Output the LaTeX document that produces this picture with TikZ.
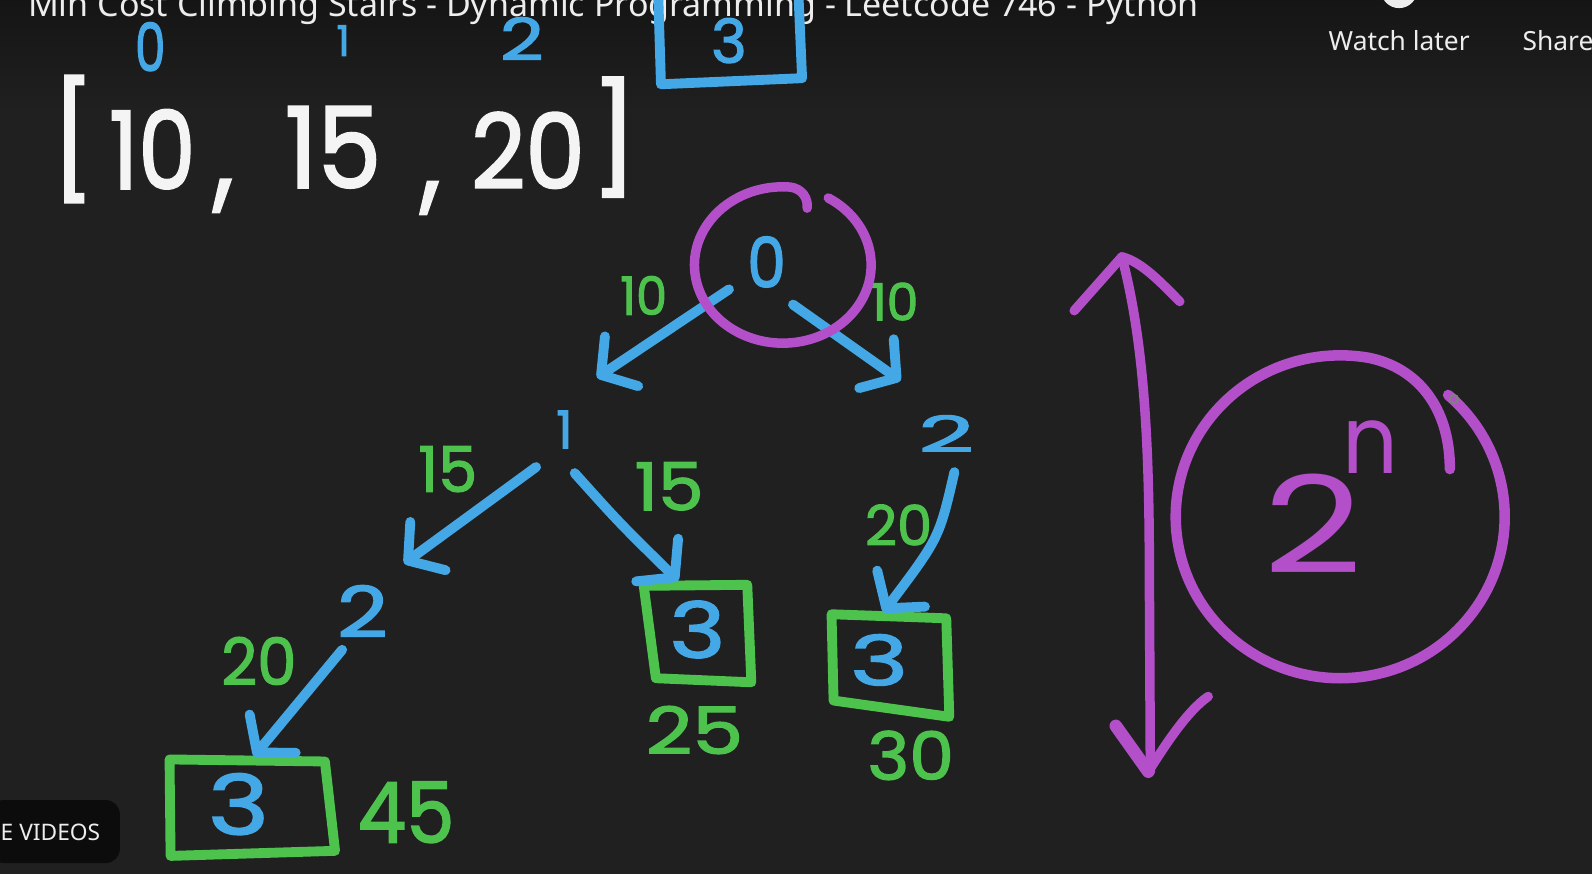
\documentclass[tikz,border=0pt]{standalone}
\usepackage{fontspec}
\usepackage{graphicx}
\setmainfont{Poppins}
\newfontfamily\hwfont{Poppins}[FakeBold=2]
\newfontfamily\uifont{Noto Sans}
\usetikzlibrary{arrows.meta}
\newdimen\U \U=0.010153cm
\newcommand\hw[3]{\resizebox{#1\U}{#2\U}{\hwfont #3}}
\newcommand\hr[3]{\resizebox{#1\U}{#2\U}{\rmfamily #3}}
\newcommand\hh[2]{\resizebox{!}{#1\U}{\hwfont #2}}
\newcommand\hb[3]{\resizebox*{#1\U}{#2\U}{\hwfont #3}}
\definecolor{bg}{HTML}{202020}
\definecolor{bgtop}{HTML}{151515}
\definecolor{hwblue}{HTML}{45A8E6}
\definecolor{hwgreen}{HTML}{4DC24D}
\definecolor{hwpurple}{HTML}{B24FC9}
\definecolor{hwwhite}{HTML}{F4F4F4}
\definecolor{uiwhite}{HTML}{EDEDED}
\definecolor{pillbg}{HTML}{0C0C0C}
\tikzset{
  bluetxt/.style={text=hwblue, inner sep=0pt},
  greentxt/.style={text=hwgreen, inner sep=0pt},
  whitetxt/.style={text=hwwhite, inner sep=0pt},
  uitxt/.style={text=uiwhite, inner sep=0pt, font=\uifont\fontsize{7.5}{9}\selectfont},
  blueline/.style={draw=hwblue, line width=2.8pt, line cap=round, line join=round},
  bluearrow/.style={blueline, -{Straight Barb[length=7pt,width=17pt,round]}},
  greenbox/.style={draw=hwgreen, line width=2.8pt, line join=round, line cap=round},
  bluebox/.style={draw=hwblue, line width=2.8pt, line join=round, line cap=round},
  purpleline/.style={draw=hwpurple, line width=2.7pt, line cap=round, line join=round},
}
\begin{document}
\begin{tikzpicture}[x=0.010153cm, y=-0.010153cm]
\path[use as bounding box] (0,0) rectangle (1568,861);
\clip (0,0) rectangle (1568,861);
\fill[bg] (0,0) rectangle (1568,861);
\shade[top color=bgtop, bottom color=bg] (0,0) rectangle (1568,110);

% ---------- UI overlay ----------
\node[anchor=base west, text=uiwhite, inner sep=0pt] (title) at (27,16)
  {\resizebox{1153\U}{!}{\uifont Min Cost Climbing Stairs - Dynamic Programming - Leetcode 746 - Python}};
\fill[uiwhite] (1378,-10) circle (18);
\node[uitxt, anchor=base west] (watch) at (1308,50) {Watch later};
\node[uitxt, anchor=base west] (share) at (1499,50) {Share};
\fill[pillbg, rounded corners=4] (-10,788) rectangle (118,850);
\node[text=uiwhite, inner sep=0pt, anchor=base west] (more) at (0,828)
  {\resizebox{98\U}{!}{\uifont E VIDEOS}};

% ---------- index labels ----------
\node[bluetxt] (i0) at (148,46) {\hw{30}{48}{0}};
\node[bluetxt] (i1) at (338,40) {\hh{30}{1}};
\node[bluetxt] (i2) at (514,38) {\hw{43}{42}{2}};
\node[bluetxt] (i3) at (718,40) {\hw{35}{44}{3}};
\draw[bluebox] (648,-15) -- (651,83) -- (790,77) -- (786,-15);

% ---------- array ----------
\node[whitetxt] (lb) at (72,137) {\hb{42}{125}{[}};
\node[whitetxt] (c10) at (150,147) {\hw{85}{78}{10}};
\node[whitetxt] (cm1) at (220,193) {\hb{20}{32}{,}};
\node[whitetxt] (c15) at (328,145) {\hw{95}{80}{15}};
\node[whitetxt] (cm2) at (424,195) {\hb{20}{32}{,}};
\node[whitetxt] (c20) at (520,148) {\hw{112}{75}{20}};
\node[whitetxt] (rb) at (605,135) {\hb{46}{118}{]}};

% ---------- tree nodes ----------
\node[bluetxt] (root) at (755,258) {\hw{38}{50}{0}};
\node[bluetxt] (n1) at (556,423) {\hh{37}{1}};
\node[bluetxt] (n2r) at (932,427) {\hw{55}{36}{2}};
\node[bluetxt] (n2l) at (357,602) {\hw{50}{51}{2}};
\node[bluetxt] (n3l) at (235,792) {\hw{60}{60}{3}};
\node[bluetxt] (n3m) at (687,620) {\hw{55}{56}{3}};
\node[bluetxt] (n3r) at (866,650) {\hw{57}{50}{3}};

% boxes around the leaves
\draw[greenbox] (167,748) -- (320,750) -- (330,838) -- (168,843) -- cycle;
\draw[greenbox] (634,577) -- (736,576) -- (740,672) -- (646,668) -- cycle;
\draw[greenbox] (819,605) -- (932,609) -- (935,706) -- (821,690) -- cycle;

% edge costs
\node[greentxt] (w1) at (634,291) {\hw{46}{38}{10}};
\node[greentxt] (w2) at (881,297) {\hw{47}{37}{10}};
\node[greentxt] (w3) at (441,462) {\hw{58}{45}{15}};
\node[greentxt] (w4) at (659,479) {\hw{68}{47}{15}};
\node[greentxt] (w5) at (885,517) {\hw{66}{40}{20}};
\node[greentxt] (w6) at (255,651) {\hw{74}{47}{20}};

% totals
\node[greentxt] (t45) at (400,800) {\hw{95}{60}{45}};
\node[greentxt] (t25) at (684,719) {\hw{96}{47}{25}};
\node[greentxt] (t30) at (897,744) {\hw{85}{48}{30}};

% arrow end points
\coordinate (a1s) at (718,285); \coordinate (a1e) at (588,372);
\coordinate (a2s) at (781,300); \coordinate (a2e) at (887,375);
\coordinate (a3s) at (528,460); \coordinate (a3e) at (398,555);
\coordinate (a4s) at (566,466); \coordinate (a4e) at (668,572);
\coordinate (a5s) at (940,465); \coordinate (a5e) at (870,603);
\coordinate (a6s) at (337,640); \coordinate (a6e) at (250,745);
\draw[bluearrow] (a1s) -- (a1e);
\draw[bluearrow] (a2s) -- (a2e);
\draw[bluearrow] (a3s) -- (a3e);
\draw[bluearrow] (a4s) .. controls (610,515) .. (a4e);
\draw[bluearrow] (a5s) .. controls (925,530) .. (a5e);
\draw[bluearrow] (a6s) -- (a6e);

% circle round the root
\draw[purpleline] (771,261) ++(-59:87 and 77)
  arc[start angle=-59, end angle=275, x radius=87, y radius=77]
  .. controls (790,186) and (796,195) .. (795,205);

% ---------- height arrow ----------
\draw[purpleline] (1105,253) .. controls (1125,330) and (1132,420) .. (1132,560) -- (1133,760);
\draw[purpleline] (1058,306) -- (1105,253) .. controls (1125,258) and (1145,280) .. (1162,297);
\draw[purpleline, line width=3.6pt] (1099,715) -- (1131,760);
\draw[purpleline] (1131,760) .. controls (1150,730) and (1170,700) .. (1190,686);

% ---------- 2^n ----------
\draw[purpleline, line width=3pt] (1320,509) ++(-49:162 and 159)
  arc[start angle=-49, end angle=280, x radius=162, y radius=159]
  .. controls (1395,362) and (1428,400) .. (1428,462);
\node[text=hwpurple, inner sep=0pt] (two) at (1293,516) {\hr{98}{98}{2}};
\node[text=hwpurple, inner sep=0pt] (en) at (1350,440) {\hr{55}{52}{n}};
\draw[gray, line width=0.6pt] (1432,393) circle (4);
\end{tikzpicture}
\end{document}
